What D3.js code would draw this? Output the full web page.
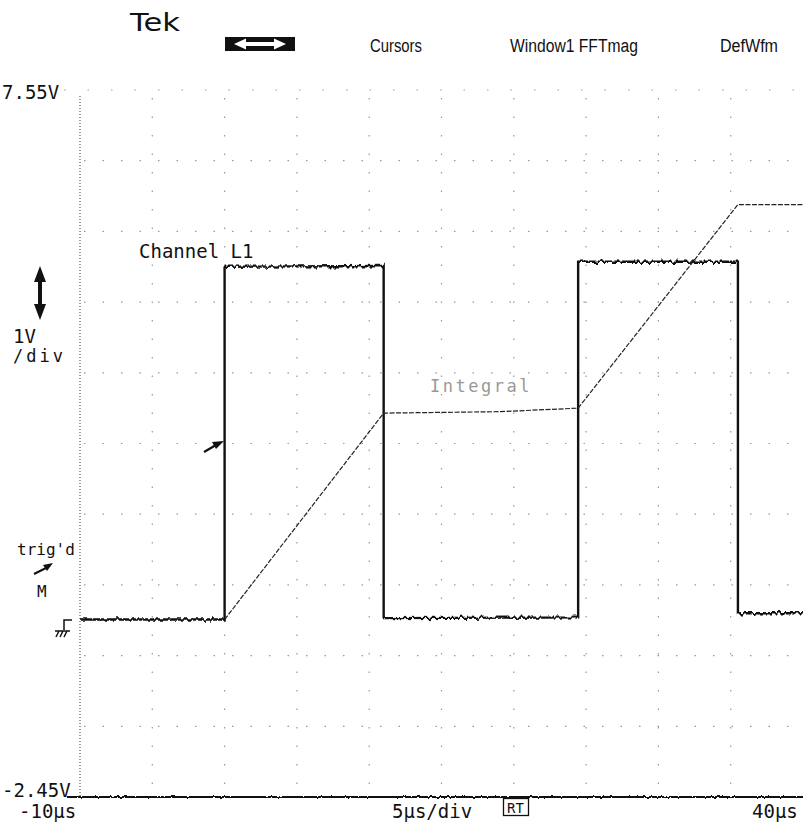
<!DOCTYPE html>
<html><head><meta charset="utf-8">
<script src="https://cdn.jsdelivr.net/npm/d3@7"></script>
<style>body{margin:0;background:#fff}svg{display:block}</style>
</head><body>
<script>
// ---- data ----
const timeTicks = ["-10\u00b5s", "40\u00b5s"];
const voltTicks = ["7.55V", "-2.45V"];
const xDomain = [-10, 40];
const yDomain = [-2.45, 7.55];
const gridTimes = [-5, 0, 5, 10, 15, 20, 25, 30, 35];
const gridVolts = [6.55, 5.55, 4.55, 3.55, 2.55, 1.55, 0.55, -0.45, -1.45];
const chTime  = [-10, 0, 0, 11, 11, 24.45, 24.45, 35.5, 35.5, 40];
const chVolt  = [0.06, 0.06, 5.05, 5.06, 0.08, 0.09, 5.12, 5.12, 0.15, 0.15];
const intTime = [0, 11, 19, 24.45, 35.5, 40];
const intVolt = [0.06, 2.98, 3.0, 3.05, 5.93, 5.93];
const menuLabels = ["Cursors", "Window1 FFTmag", "DefWfm"];

const W = 809, H = 829;
const svg = d3.select("body").append("svg").attr("width", W).attr("height", H);
const defs = svg.append("defs");
function noiseFilter(id, freq, scale) {
  const f = defs.append("filter").attr("id", id).attr("filterUnits","userSpaceOnUse")
    .attr("x",0).attr("y",0).attr("width",W).attr("height",H).attr("color-interpolation-filters","sRGB");
  f.append("feTurbulence").attr("type","fractalNoise").attr("baseFrequency",freq).attr("numOctaves",2).attr("seed",5).attr("result","t");
  f.append("feColorMatrix").attr("in","t").attr("type","matrix")
    .attr("values","0 0 0 0 0.5  0 1 0 0 0  0 0 0 0 0  0 0 0 0 1").attr("result","m");
  f.append("feDisplacementMap").attr("in","SourceGraphic").attr("in2","m").attr("scale",scale)
    .attr("xChannelSelector","R").attr("yChannelSelector","G");
}
noiseFilter("noise", "0.25 0.05", 7);
noiseFilter("noise2", "0.3 0.05", 3);

const x = d3.scaleLinear().domain(xDomain).range([80, 803]);
const y = d3.scaleLinear().domain(yDomain).range([797, 90]);
const mono = "DejaVu Sans Mono, monospace";

// grid
const g = svg.append("g");
g.selectAll(".hg").data(gridVolts).enter().append("line")
  .attr("x1", 84).attr("x2", 803).attr("y1", d=>y(d)).attr("y2", d=>y(d))
  .attr("stroke", "#999").attr("stroke-width", 1.2).attr("stroke-dasharray", "1.5,17");
g.selectAll(".vg").data(gridTimes).enter().append("line")
  .attr("y1", 98).attr("y2", 793).attr("x1", d=>x(d)).attr("x2", d=>x(d))
  .attr("stroke", "#999").attr("stroke-width", 1.2).attr("stroke-dasharray", "1.5,17");
// top dotted line
g.append("line").attr("x1", 64).attr("x2", 803).attr("y1", y(7.55)).attr("y2", y(7.55))
  .attr("stroke", "#999").attr("stroke-dasharray", "1.5,22");
// left axis dotted
g.append("line").attr("x1", x(-10)).attr("x2", x(-10)).attr("y1", 96).attr("y2", 797)
  .attr("stroke", "#333").attr("stroke-width", 1).attr("stroke-dasharray", "1,2");
// bottom axis
svg.append("line").attr("x1", 67).attr("x2", 803).attr("y1", y(-2.45)).attr("y2", y(-2.45))
  .attr("stroke", "#111").attr("stroke-width", 2).attr("filter", "url(#noise2)");

// traces
const line = d3.line().x(d=>x(d[0])).y(d=>y(d[1]));
svg.append("path").datum(chTime.map((t,i)=>[t, chVolt[i]])).attr("d", line)
  .attr("fill","none").attr("stroke","#111").attr("stroke-width",2.4).attr("filter","url(#noise)");
svg.append("path").datum(intTime.map((t,i)=>[t, intVolt[i]])).attr("d", line)
  .attr("fill","none").attr("stroke","#222").attr("stroke-width",1.2).attr("stroke-dasharray","5,1.5");

// header
svg.append("text").attr("x",130).attr("y",31).attr("font-family","DejaVu Sans, sans-serif")
  .attr("font-size",25).attr("textLength",50).attr("lengthAdjust","spacingAndGlyphs").attr("fill","#111").text("Tek");
svg.append("rect").attr("x",225).attr("y",37).attr("width",70).attr("height",14).attr("fill","#111");
svg.append("path").attr("d","M234,44 L246,38.5 L246,42 L274,42 L274,38.5 L286,44 L274,49.5 L274,46 L246,46 L246,49.5 Z").attr("fill","#fff");
const menuX = [370, 510, 720], menuW = [52, 128, 58];
menuLabels.forEach((t,i)=>{
  svg.append("text").attr("x",menuX[i]).attr("y",52).attr("font-family","Liberation Sans Narrow, Liberation Sans, sans-serif")
   .attr("font-size",18).attr("textLength",menuW[i]).attr("lengthAdjust","spacingAndGlyphs").attr("fill","#111").text(t);
});

// axis labels
svg.append("text").attr("x",2).attr("y",99).attr("font-family",mono).attr("font-size",19).attr("fill","#111").text(voltTicks[0]);
svg.append("text").attr("x",2).attr("y",797).attr("font-family",mono).attr("font-size",19).attr("fill","#111").text(voltTicks[1]);
svg.append("text").attr("x",19).attr("y",818).attr("font-family",mono).attr("font-size",19).attr("fill","#111").text(timeTicks[0]);
svg.append("text").attr("x",752).attr("y",818).attr("font-family",mono).attr("font-size",19).attr("fill","#111").text(timeTicks[1]);
svg.append("text").attr("x",392).attr("y",818).attr("font-family",mono).attr("font-size",19).attr("fill","#111").text("5\u00b5s/div");
svg.append("rect").attr("x",503.5).attr("y",798.5).attr("width",25).attr("height",17).attr("fill","none").attr("stroke","#111").attr("stroke-width",1.3);
svg.append("text").attr("x",507).attr("y",813).attr("font-family",mono).attr("font-size",14).attr("fill","#111").text("RT");

// trace labels
svg.append("text").attr("x",139).attr("y",258).attr("font-family",mono).attr("font-size",19).attr("fill","#111").text("Channel L1");
svg.append("text").attr("x",430).attr("y",392).attr("font-family",mono).attr("font-size",17).attr("letter-spacing",2.5).attr("fill","#999").text("Integral");

// left panel
svg.append("path").attr("d","M40,266 L34,282 L38,282 L38,304 L34,304 L40,320 L46,304 L42,304 L42,282 L46,282 Z").attr("fill","#111");
svg.append("text").attr("x",13).attr("y",343).attr("font-family",mono).attr("font-size",19).attr("fill","#111").text("1V");
svg.append("text").attr("x",13).attr("y",362).attr("font-family",mono).attr("font-size",17).attr("letter-spacing",3).attr("fill","#111").text("/div");
svg.append("text").attr("x",17).attr("y",555).attr("font-family",mono).attr("font-size",16).attr("fill","#111").text("trig'd");
svg.append("path").attr("d","M34,574 L48,567").attr("stroke","#111").attr("stroke-width",2);
svg.append("path").attr("d","M53,563 L43,565 L47,571 Z").attr("fill","#111");
svg.append("text").attr("x",37).attr("y",597).attr("font-family",mono).attr("font-size",16).attr("fill","#111").text("M");
// ground marker
svg.append("path").attr("d","M72,620 H64 V630 M55,631 H70 M56,637 L59,631 M60,637 L63,631 M64,637 L67,631")
  .attr("fill","none").attr("stroke","#111").attr("stroke-width",1.5);
// trigger level arrow
svg.append("path").attr("d","M204,452 L216,445").attr("stroke","#111").attr("stroke-width",2.2);
svg.append("path").attr("d","M224,441 L212,442 L216,449 Z").attr("fill","#111");
</script>
</body></html>
